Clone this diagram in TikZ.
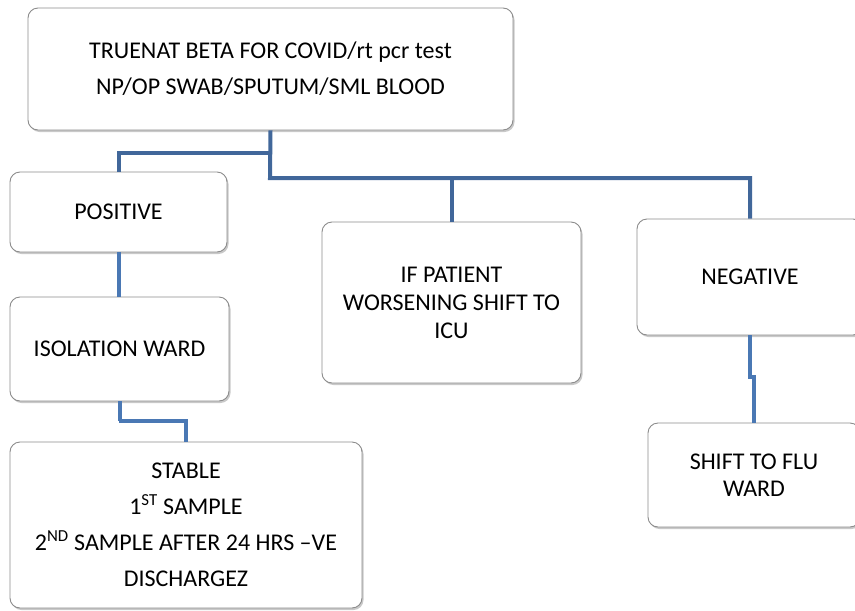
\documentclass[tikz,border=0pt]{standalone}
\usepackage{fontspec}
\setmainfont{Carlito}
\usetikzlibrary{shadows}
\definecolor{boxline}{HTML}{8C8C8C}
\definecolor{linkdark}{HTML}{41679A}
\definecolor{linklight}{HTML}{4A78B4}
\tikzset{
  flowbox/.style={draw=boxline, line width=0.9pt, fill=white, rounded corners=10pt,
    align=center, inner sep=0pt,
    drop shadow={shadow xshift=1.5pt, shadow yshift=-2pt, opacity=0.35, fill=black!60},
    font=\fontsize{24}{28}\selectfont},
  widelines/.style={font=\fontsize{24}{36}\selectfont},
  narrowlines/.style={font=\fontsize{24}{26.5}\selectfont},
  linkA/.style={draw=linkdark, line width=4pt},
  linkB/.style={draw=linklight, line width=4pt},
}
\begin{document}
\begin{tikzpicture}[x=1pt,y=-1pt]
\path[use as bounding box, fill=white] (0,0) rectangle (855,611);
\clip (0,0) rectangle (855,611);
% nodes
\node[flowbox, widelines, minimum width=485, minimum height=122] (top) at (270.5,69)
  {TRUENAT BETA FOR COVID/rt pcr test\\NP/OP SWAB/SPUTUM/SML BLOOD};
\node[flowbox, minimum width=217, minimum height=80] (pos) at (118.5,212) {POSITIVE};
\node[flowbox, minimum width=219, minimum height=104] (iso) at (119.5,349) {ISOLATION WARD};
\node[flowbox, widelines, minimum width=352, minimum height=166] (stable) at (186,525)
  {STABLE\\1\textsuperscript{ST} SAMPLE\\2\textsuperscript{ND} SAMPLE AFTER 24 HRS –VE\\DISCHARGEZ};
\node[flowbox, minimum width=259, minimum height=161] (ifp) at (451.5,302.5)
  {IF PATIENT\\WORSENING SHIFT TO\\ICU};
\node[flowbox, minimum width=226, minimum height=116] (neg) at (750,277) {NEGATIVE};
\node[flowbox, narrowlines, minimum width=212, minimum height=104] (flu) at (754,475) {SHIFT TO FLU\\WARD};
% bus coordinates
\coordinate (b1) at (270,153);
\coordinate (b2) at (270,178);
\coordinate (c1) at (119,421);
\coordinate (j1) at (750,377);
% connectors
\draw[linkA] (top.south) -- (b2) -| (neg.north);
\draw[linkA] (b1) -| (pos.north);
\draw[linkA] (ifp.north) -- (ifp.north |- b2);
\draw[linkB] (pos.south) -- (pos.south |- iso.north);
\draw[linkB] (iso.south) |- (c1) -| (stable.north);
\draw[linkB] (neg.south) -- (j1) -| (flu.north);
\end{tikzpicture}
\end{document}
